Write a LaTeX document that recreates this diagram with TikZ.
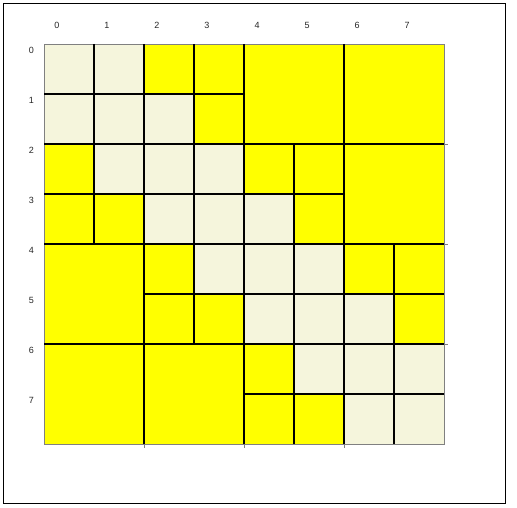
\documentclass[tikz,border=0pt]{standalone}
\usepackage{fontspec}
\setmainfont{Liberation Sans}
\definecolor{cellbeige}{HTML}{F5F5DC}
\definecolor{cellyellow}{HTML}{FFFF00}
\tikzset{
  blockline/.style={line width=2pt, black},
  axisline/.style={line width=0.8pt, black!50},
  ticklabel/.style={font=\fontsize{9}{10}\selectfont, text=black!85, inner sep=0pt}
}
\begin{document}
\begin{tikzpicture}[x=1pt,y=-1pt]
  \useasboundingbox (0,0) rectangle (517,508);
  \draw[line width=1.3pt] (3.5,3.5) rectangle (505.5,503.5);
  \fill[cellyellow] (44,44) rectangle (444,444);
  % band |r-c|<=1 is beige
  \begin{scope}
    \clip (44,44) rectangle (444,444);
    \foreach \r in {0,...,7}
      \foreach \d in {-1,0,1}
        \fill[cellbeige] ({44+50*(\r+\d)},{44+50*\r}) rectangle +(50,50);
  \end{scope}
  \draw[axisline] (44,44) rectangle (444,444);
  \foreach \x/\ya/\yb in {94/44/244, 144/44/444, 194/44/344, 244/44/444,
                          294/144/444, 344/44/444, 394/244/444}
    \draw[blockline] (\x,\ya) -- (\x,\yb);
  \foreach \y/\xa/\xb in {94/44/244, 144/44/444, 194/44/344, 244/44/444,
                          294/144/444, 344/44/444, 394/244/444}
    \draw[blockline] (\xa,\y) -- (\xb,\y);
  \foreach \t in {144,244,344} {
    \draw[axisline] (444,\t) -- (448,\t);
    \draw[axisline] (\t,444) -- (\t,448);
  }
  \foreach \i in {0,...,7} {
    \node[ticklabel] (col\i) at ({57+50*\i},25.5) {\i};
    \node[ticklabel] (row\i) at (31.5,{50.5+50*\i}) {\i};
  }
\end{tikzpicture}
\end{document}
